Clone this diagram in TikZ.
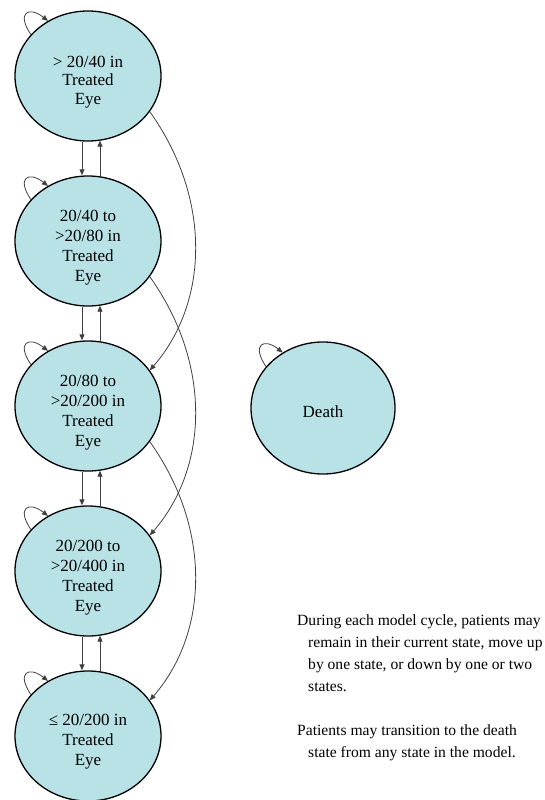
\documentclass[tikz,border=0pt]{standalone}
\usepackage{fontspec}
\setmainfont{Liberation Serif}
\usetikzlibrary{arrows.meta,shapes.geometric,calc}
\definecolor{statefill}{RGB}{184,226,230}
\begin{document}
\begin{tikzpicture}[x=1pt,y=-1pt,
  state/.style={ellipse, draw=black, line width=1.3pt, fill=statefill,
    minimum width=146pt, minimum height=130pt, inner sep=0pt},
  statetext/.style={align=center, inner sep=0pt,
    font=\fontsize{17}{20}\selectfont},
  conn/.style={draw=black!75, line width=0.8pt, -{Triangle[length=6pt,width=5pt]}},
  note/.style={anchor=north west, align=left, inner sep=0pt,
    font=\fontsize{15.6}{22}\selectfont}]
\useasboundingbox (0,0) rectangle (544,800);
\node[state] (s1) at (88,76) {};
\node[state] (s2) at (88,241) {};
\node[state] (s3) at (88,406) {};
\node[state] (s4) at (88,571) {};
\node[state] (s5) at (88,736) {};
\node[state, minimum width=144pt, minimum height=132pt] (death) at (323,408) {};
\node[statetext, font=\fontsize{17}{18.5}\selectfont] (s1t) at ($(s1)+(0,6)$) {> 20/40 in\\Treated\\Eye};
\node[statetext] (s2t) at ($(s2)+(0,7)$) {20/40 to\\>20/80 in\\Treated\\Eye};
\node[statetext] (s3t) at ($(s3)+(0,7)$) {20/80 to\\>20/200 in\\Treated\\Eye};
\node[statetext] (s4t) at ($(s4)+(0,7)$) {20/200 to\\>20/400 in\\Treated\\Eye};
\node[statetext] (s5t) at ($(s5)+(0,6)$) {≤ 20/200 in\\Treated\\Eye};
\node[statetext] (deatht) at ($(death)+(0,4)$) {Death};
% self loops
\foreach \n in {s1,s2,s3,s4,s5,death}
  \draw[conn] (\n.144) .. controls +(-15,-22) and +(-19,-15) .. (\n.126);
% vertical transitions
\foreach \a/\b in {s1/s2,s2/s3,s3/s4,s4/s5}{
  \draw[conn] ($(\a.south)+(-6,0)$) -- ($(\b.north)+(-6,0)$);
  \draw[conn] ($(\b.north)+(12,1)$) -- ($(\a.south)+(12,-1)$);
}
% down by two
\foreach \a/\b in {s1/s3,s2/s4,s3/s5}
  \draw[conn] (\a.-30) .. controls +(62,87) and +(59,-68) .. (\b.30);
% notes
\node[note] (t1) at (297,614) {During each model cycle, patients may\\\hspace*{11pt}remain in their current state, move up\\\hspace*{11pt}by one state, or down by one or two\\\hspace*{11pt}states.};
\node[note] (t2) at (297,724) {Patients may transition to the death\\\hspace*{11pt}state from any state in the model.};
\end{tikzpicture}
\end{document}
